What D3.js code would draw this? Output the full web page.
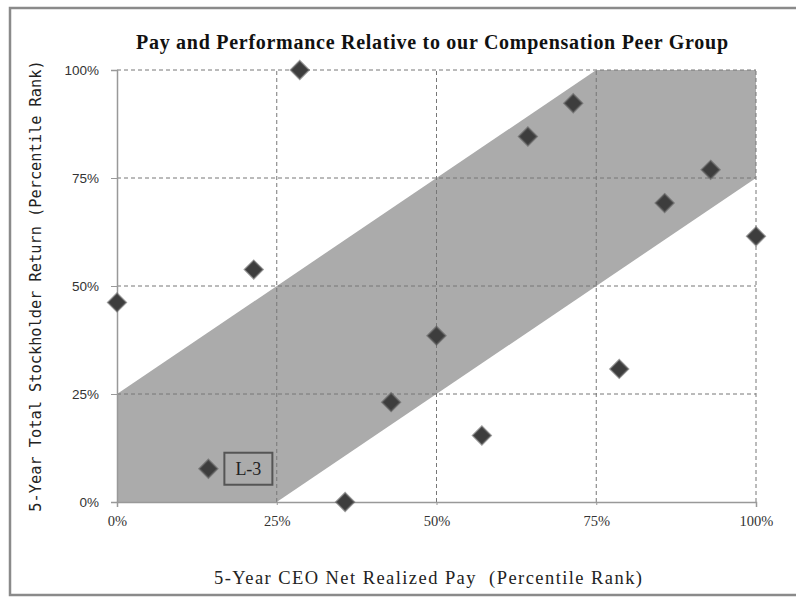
<!DOCTYPE html>
<html>
<head>
<meta charset="utf-8">
<title>Pay and Performance</title>
<style>
  body { margin: 0; background: #fff; }
  svg { display: block; }
</style>
</head>
<body>
<svg width="796" height="598"></svg>
<script src="https://d3js.org/d3.v7.min.js"></script>
<script>
// peer group: pay rank vs. TSR rank (percent)
var payRank = [0, 14.3, 21.4, 28.6, 35.7, 42.9, 50, 57.1, 64.3, 71.4, 78.6, 85.7, 92.9, 100];
var tsrRank = [46.2, 7.7, 53.8, 100, 0, 23.1, 38.5, 15.4, 84.6, 92.3, 30.8, 69.2, 76.9, 61.5];
var labels = ["", "L-3", "", "", "", "", "", "", "", "", "", "", "", ""];
// alignment band corners (pay %, tsr %)
var bandX = [0, 0, 75, 100, 100, 25];
var bandY = [0, 25, 100, 100, 75, 0];
var ticks = [0, 25, 50, 75, 100];

var svg = d3.select("svg");
var x = d3.scaleLinear().domain([0, 100]).range([117, 756]);
var y = d3.scaleLinear().domain([0, 100]).range([502, 70]);

// outer frame
svg.append("rect")
  .attr("x", 10).attr("y", 8).attr("width", 800).attr("height", 587)
  .attr("fill", "none").attr("stroke", "#8a8a8a").attr("stroke-width", 2.5);

// band
var band = bandX.map(function (v, i) { return [x(v), y(bandY[i])]; });
svg.append("path")
  .attr("d", d3.line()(band) + "Z")
  .attr("fill", "#ababab");

// dashed grid
var grid = svg.append("g").attr("stroke", "#777").attr("stroke-dasharray", "4,3").attr("stroke-width", 1);
ticks.slice(1).forEach(function (t) {
  grid.append("line").attr("x1", x(0)).attr("x2", x(100)).attr("y1", y(t)).attr("y2", y(t));
  grid.append("line").attr("x1", x(t)).attr("x2", x(t)).attr("y1", y(0)).attr("y2", y(100));
});

// axes
var yAxis = svg.append("g").attr("transform", "translate(" + x(0) + ",0)")
  .call(d3.axisLeft(y).tickValues(ticks).tickSize(6).tickPadding(12).tickFormat(function (d) { return d + "%"; }));
yAxis.select(".domain").attr("stroke", "#999").attr("stroke-width", 1.5);
yAxis.selectAll(".tick line").attr("stroke", "#999");
yAxis.selectAll("text").attr("font-family", "Liberation Sans, Arial, sans-serif")
  .attr("font-size", 13.5).attr("fill", "#333");

var xAxis = svg.append("g").attr("transform", "translate(0," + y(0) + ")")
  .call(d3.axisBottom(x).tickValues(ticks).tickSize(5).tickPadding(9).tickFormat(function (d) { return d + "%"; }));
xAxis.select(".domain").attr("stroke", "#999").attr("stroke-width", 1.5);
xAxis.selectAll(".tick line").attr("stroke", "#999").attr("stroke-dasharray", "3,2");
xAxis.selectAll("text").attr("font-family", "Liberation Serif, Times New Roman, serif")
  .attr("font-size", 14.5).attr("fill", "#333");

// points
svg.append("g").selectAll("path.pt")
  .data(payRank)
  .enter()
  .append("path")
  .attr("class", "pt")
  .attr("d", "M0,-9L9,0L0,9L-9,0Z")
  .attr("transform", function (d, i) { return "translate(" + x(d) + "," + y(tsrRank[i]) + ")"; })
  .attr("fill", "#3d3d3d")
  .attr("stroke", "#5a5a5a")
  .attr("stroke-opacity", 0.6)
  .attr("stroke-width", 2);

// label box
payRank.forEach(function (d, i) {
  if (!labels[i]) return;
  var cx = x(d) + 40, cy = y(tsrRank[i]);
  svg.append("rect")
    .attr("x", cx - 24).attr("y", cy - 16).attr("width", 48).attr("height", 32)
    .attr("fill", "none").attr("stroke", "#555").attr("stroke-width", 2);
  svg.append("text")
    .attr("x", cx).attr("y", cy + 6)
    .attr("text-anchor", "middle")
    .attr("font-family", "Liberation Serif, Times New Roman, serif")
    .attr("font-size", 18).attr("fill", "#222")
    .text(labels[i]);
});

// titles
svg.append("text")
  .attr("x", 136).attr("y", 49)
  .attr("font-family", "Liberation Serif, Times New Roman, serif")
  .attr("font-weight", "bold").attr("font-size", 20).attr("fill", "#111")
  .attr("textLength", 592).attr("lengthAdjust", "spacing")
  .text("Pay and Performance Relative to our Compensation Peer Group");

svg.append("text")
  .attr("x", 214).attr("y", 584)
  .attr("font-family", "Liberation Serif, Times New Roman, serif")
  .attr("font-size", 18.5).attr("fill", "#222")
  .attr("xml:space", "preserve")
  .attr("textLength", 428).attr("lengthAdjust", "spacing")
  .text("5-Year CEO Net Realized Pay  (Percentile Rank)");

svg.append("text")
  .attr("transform", "translate(41,286) rotate(-90)")
  .attr("text-anchor", "middle")
  .attr("font-family", "DejaVu Sans Mono, monospace")
  .attr("font-size", 15.3).attr("fill", "#222")
  .text("5-Year Total Stockholder Return (Percentile Rank)");
</script>
</body>
</html>
